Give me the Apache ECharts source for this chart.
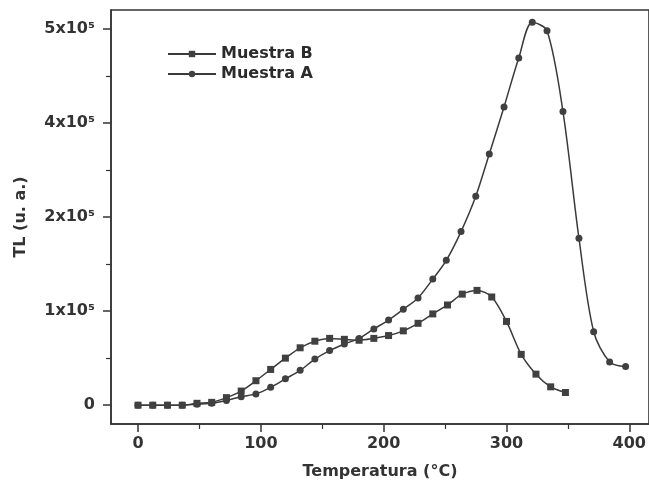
<!DOCTYPE html>
<html>
<head>
<meta charset="utf-8">
<script src="https://cdn.jsdelivr.net/npm/echarts@6/dist/echarts.min.js"></script>
<style>
html,body{margin:0;padding:0;background:#ffffff;}
#chart{width:649px;height:488px;}
</style>
</head>
<body>
<div id="chart"></div>
<script>
// ---- Data (TL in units of the y tick step, temperature in °C) ----
var tempB = [0,12,24,36,48,60,72,84,96,108,120,132,144,156,168,180,192,204,216,228,240,252,264,276,288,300,312,324,336,348];
var tlB   = [0,0,0,0,0.02,0.03,0.08,0.15,0.26,0.38,0.50,0.61,0.68,0.71,0.70,0.69,0.71,0.74,0.79,0.87,0.97,1.065,1.18,1.22,1.15,0.89,0.54,0.33,0.195,0.135];

var tempA = [0,12,24,36,48,60,72,84,96,108,120,132,144,156,168,180,192,204,216,228,240,251,263,275,286,298,310,321,333,346,359,371,384,397];
var tlA   = [0,0,0,0,0.01,0.02,0.05,0.09,0.12,0.19,0.28,0.37,0.49,0.58,0.65,0.71,0.81,0.905,1.02,1.14,1.34,1.54,1.845,2.22,2.67,3.17,3.69,4.07,3.98,3.12,1.775,0.78,0.46,0.41];

var xTickValues = [0,100,200,300,400];
var xMinorValues = [50,150,250,350];
var yTickValues = [0,1,2,3,4];
var yTickLabels = ['0','1x10\u2075','2x10\u2075','4x10\u2075','5x10\u2075'];
var yMinorValues = [0.5,1.5,2.5,3.5];

var seriesNames = ['Muestra B','Muestra A'];

function zip(xs, ys){ return xs.map(function(x,i){ return [x, ys[i]]; }); }

var FONT = 'DejaVu Sans';
var INK = '#333333';

var chart = echarts.init(document.getElementById('chart'), null, {renderer:'canvas'});
chart.setOption({
  backgroundColor: '#ffffff',
  animation: false,
  grid: {left:111, right:-5, top:10, bottom:64, show:true, borderColor:INK, borderWidth:1.5, backgroundColor:'transparent'},
  legend: {
    data: seriesNames,
    orient: 'vertical',
    left: 162, top: 41,
    itemWidth: 48, itemHeight: 8, itemGap: 4,
    textStyle: {fontFamily: FONT, fontWeight: 'bold', fontSize: 16, color: '#2b2b2b'}
  },
  xAxis: [{
    type: 'value', min: -22, max: 416,
    name: 'Temperatura (°C)', nameLocation: 'middle', nameGap: 40,
    nameTextStyle: {fontFamily: FONT, fontWeight: 'bold', fontSize: 16, color: INK},
    axisLine: {show: true, onZero: false, lineStyle: {color: INK, width: 1.5}},
    axisTick: {show: true, inside: false, length: 8, customValues: xTickValues, lineStyle: {color: INK, width: 1.5}},
    axisLabel: {show: true, margin: 12, customValues: xTickValues, fontFamily: FONT, fontWeight: 'bold', fontSize: 16, color: INK},
    splitLine: {show: false}
  },{
    type: 'value', min: -22, max: 416, position: 'bottom',
    axisLine: {show: false, onZero: false},
    axisTick: {show: true, inside: false, length: 5, customValues: xMinorValues, lineStyle: {color: INK, width: 1.2}},
    axisLabel: {show: false},
    splitLine: {show: false}
  }],
  yAxis: [{
    type: 'value', min: -0.2, max: 4.2,
    name: 'TL (u. a.)', nameLocation: 'middle', nameGap: 82, nameRotate: 90,
    nameTextStyle: {fontFamily: FONT, fontWeight: 'bold', fontSize: 16, color: INK},
    axisLine: {show: true, onZero: false, lineStyle: {color: INK, width: 1.5}},
    axisTick: {show: true, inside: false, length: 8, customValues: yTickValues, lineStyle: {color: INK, width: 1.5}},
    axisLabel: {show: true, margin: 16, customValues: yTickValues, fontFamily: FONT, fontWeight: 'bold', fontSize: 16, color: INK,
      formatter: function(v){ return yTickLabels[Math.round(v)]; }},
    splitLine: {show: false}
  },{
    type: 'value', min: -0.2, max: 4.2, position: 'left',
    axisLine: {show: false, onZero: false},
    axisTick: {show: true, inside: false, length: 5, customValues: yMinorValues, lineStyle: {color: INK, width: 1.2}},
    axisLabel: {show: false},
    splitLine: {show: false}
  }],
  series: [{
    name: seriesNames[0], type: 'line', xAxisIndex: 0, yAxisIndex: 0,
    data: zip(tempB, tlB), smooth: 0.3,
    symbol: 'rect', symbolSize: 7,
    lineStyle: {color: '#3a3a3a', width: 1.5},
    itemStyle: {color: '#404040'}
  },{
    name: seriesNames[1], type: 'line', xAxisIndex: 0, yAxisIndex: 0,
    data: zip(tempA, tlA), smooth: 0.3,
    symbol: 'circle', symbolSize: 7,
    lineStyle: {color: '#3a3a3a', width: 1.5},
    itemStyle: {color: '#404040'}
  }]
});
</script>
</body>
</html>
